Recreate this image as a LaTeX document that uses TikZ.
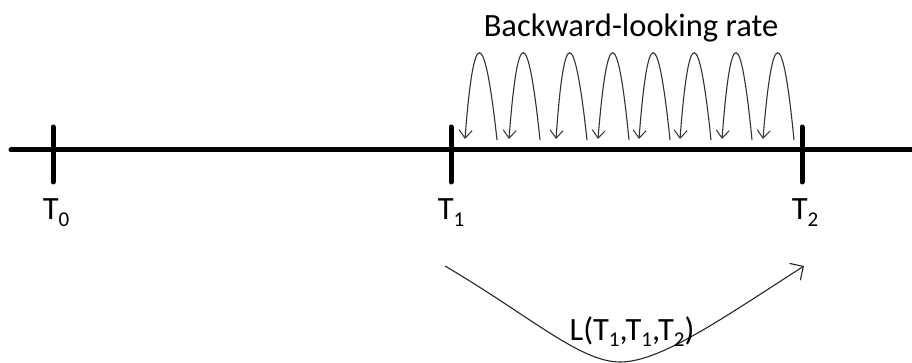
\documentclass[tikz,border=0pt]{standalone}
\usepackage{fontspec}
\setmainfont{Carlito}
\usetikzlibrary{arrows.meta}
\newcommand{\sbs}[1]{\raisebox{-0.2em}{\fontsize{21}{22}\selectfont #1}}
\begin{document}
\begin{tikzpicture}[x=1pt,y=-1pt,
  axisline/.style={line width=5pt,line cap=round},
  tickline/.style={line width=5pt,line cap=round},
  lbl/.style={font=\fontsize{32.5}{34}\selectfont,inner sep=0pt,anchor=base},
  archline/.style={line width=1.1pt,black!80,-{Straight Barb[length=8pt,width=13pt,line width=1pt]}},
  bigarc/.style={line width=1.1pt,black!85,-{Straight Barb[length=10pt,width=20pt,line width=1.1pt]}}]
\useasboundingbox (0,0) rectangle (912,363);
% axis
\coordinate (axL) at (11,150);
\coordinate (axR) at (915,150);
\draw[axisline] (axL) -- (axR);
% ticks
\foreach \n/\x in {t0/53,t1/451,t2/802}{
  \coordinate (\n top) at (\x,127);
  \coordinate (\n bot) at (\x,182);
  \draw[tickline] (\n top) -- (\n bot);
}
% labels
\node[lbl] (L0) at (56,220) {T\sbs{0}};
\node[lbl] (L1) at (451,220) {T\sbs{1}};
\node[lbl] (L2) at (805,220) {T\sbs{2}};
\node[lbl] (title) at (631,37) {Backward-looking rate};
% arches: left foot / apex / right foot (parabolic)
\foreach \i/\l/\a/\r in {1/465/478/497,2/509/522/540,3/556/568/587,4/598/612/629,5/639/652/670,6/680/693/711,7/722/735/752,8/763/777/794}{
  \coordinate (r\i) at (\r,140);
  \coordinate (l\i) at (\l,139);
  \pgfmathsetmacro{\ca}{\r+2/3*(\a-\r)}
  \pgfmathsetmacro{\cb}{\l+2/3*(\a-\l)}
  \draw[archline] (r\i) .. controls (\ca,24) and (\cb,24) .. (l\i);
}
% lower curve
\coordinate (cs) at (445,266);
\coordinate (cm) at (620,362);
\coordinate (ce) at (804,266);
\draw[bigarc] (cs) .. controls (530,316) and (580,362) .. (cm) .. controls (660,362) and (720,320) .. (ce);
\node[lbl] (Llab) at (632,340) {L(T\sbs{1},T\sbs{1},T\sbs{2})};
\end{tikzpicture}
\end{document}
